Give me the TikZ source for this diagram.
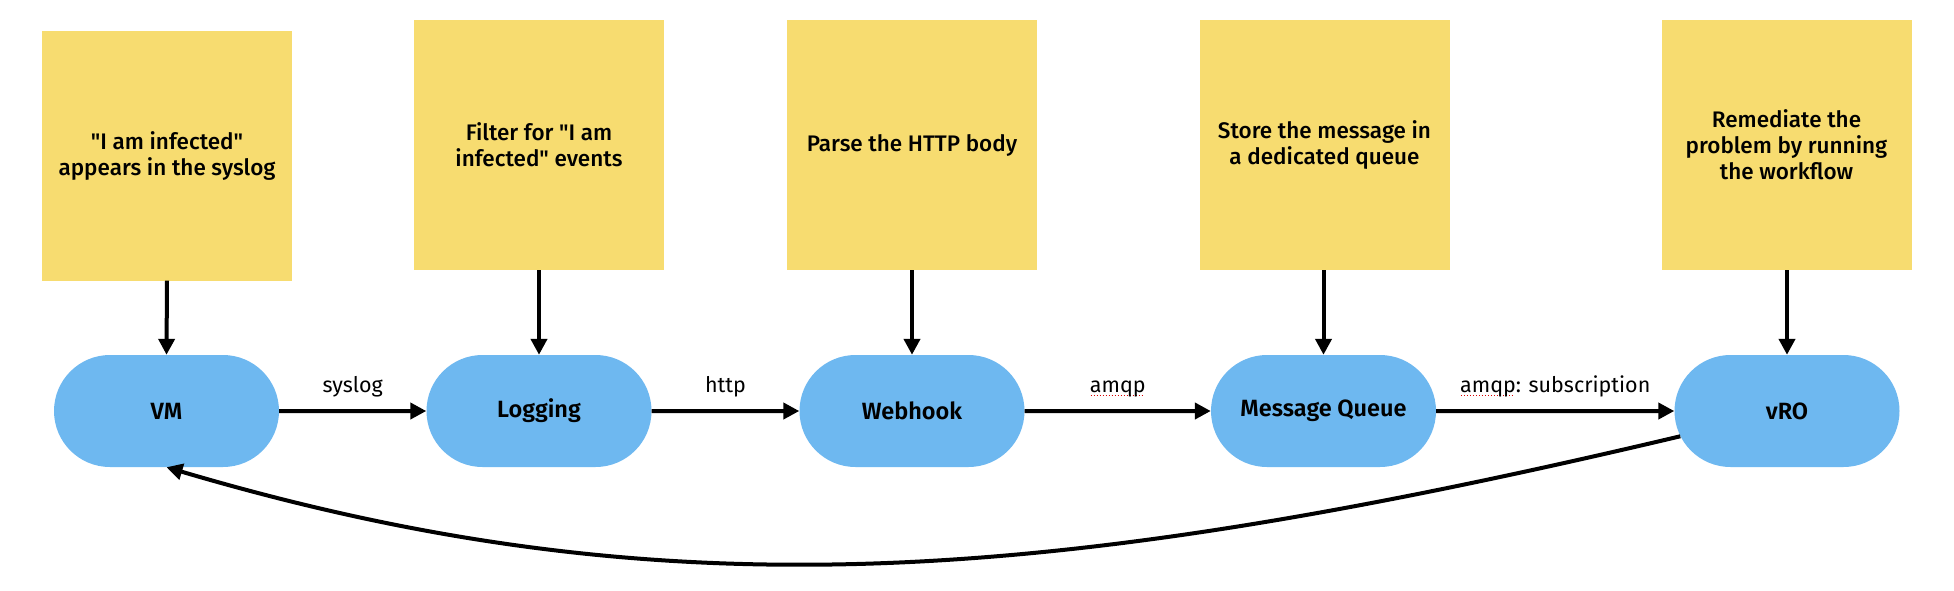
\documentclass[tikz,border=0pt]{standalone}
\usepackage{fontspec}
\setmainfont{Fira Sans}
\newfontfamily\medfont{Fira Sans Medium}
\newfontfamily\sbfont{Fira Sans SemiBold}
\usetikzlibrary{arrows.meta,shapes.misc,calc}
\definecolor{stickyyellow}{RGB}{247,220,112}
\definecolor{pillblue}{RGB}{110,184,240}
\newcommand\spellmark[1]{\setbox0\hbox{#1}\rlap{\textcolor{red!85!black}{\raisebox{-4pt}{\hbox to\wd0{\leaders\hbox to 3pt{\hss\rule{1.6pt}{1.4pt}\hss}\hfil}}}}\box0}
\pgfdeclarelayer{bg}
\pgfsetlayers{bg,main}
\begin{document}
\begin{tikzpicture}[x=1pt,y=-1pt,
  sticky/.style={fill=stickyyellow, minimum width=250pt, minimum height=250pt, inner sep=0pt, align=center, font=\medfont\fontsize{22.5}{26}\selectfont},
  pill/.style={rounded rectangle, fill=pillblue, minimum width=225pt, minimum height=112pt, inner sep=0pt, font=\sbfont\fontsize{23.5}{28}\selectfont},
  conn/.style={line width=4pt, -{Triangle[length=16pt,width=16pt]}},
  lbl/.style={midway, anchor=base, yshift=19pt, inner sep=0pt, font=\fontsize{21.5}{26}\selectfont}
]
\fill[white] (0,0) rectangle (1954,590);
\useasboundingbox (0,0) rectangle (1954,590);

\node[sticky] (s1) at (167,155.5) {"I am infected"\\appears in the syslog};
\node[sticky] (s2) at (539,145) {Filter for "I am\\infected" events};
\node[sticky] (s3) at (912,145) {Parse the HTTP body};
\node[sticky] (s4) at (1324.5,145) {Store the message in\\a dedicated queue};
\node[sticky] (s5) at (1786.5,145) {Remediate the\\problem by running\\the workflow};

\begin{pgfonlayer}{bg}
\foreach \s in {s1,s2,s3,s4,s5}{
  \foreach \i in {1,...,7}{
    \fill[black,opacity=0.03] ($(\s.south west)+(3,-30)$) rectangle ($(\s.south east)+(0.5*\i,1.5*\i)$);
  }
}
\end{pgfonlayer}

\node[pill] (vm)  at (166.5,411) {VM};
\node[pill] (log) at (539,411) {Logging};
\node[pill] (wh)  at (912,411) {Webhook};
\node[pill] (mq)  at (1323.5,411) {Message Queue};
\node[pill] (vro) at (1787,411) {vRO};

\draw[conn] (s1.south) -- (vm.north);
\draw[conn] (s2.south) -- (log.north);
\draw[conn] (s3.south) -- (wh.north);
\draw[conn] (s4.south -| mq.north) -- (mq.north);
\draw[conn] (s5.south -| vro.north) -- (vro.north);

\draw[conn] (vm) -- node[lbl]{syslog} (log);
\draw[conn] (log) -- node[lbl]{http} (wh);
\draw[conn] (wh) -- node[lbl]{\spellmark{amqp}} (mq);
\draw[conn] (mq) -- node[lbl]{\spellmark{amqp}: subscription} (vro);

\draw[conn] (vro) .. controls (1048,586) and (663,614) .. (vm.south);
\end{tikzpicture}
\end{document}
